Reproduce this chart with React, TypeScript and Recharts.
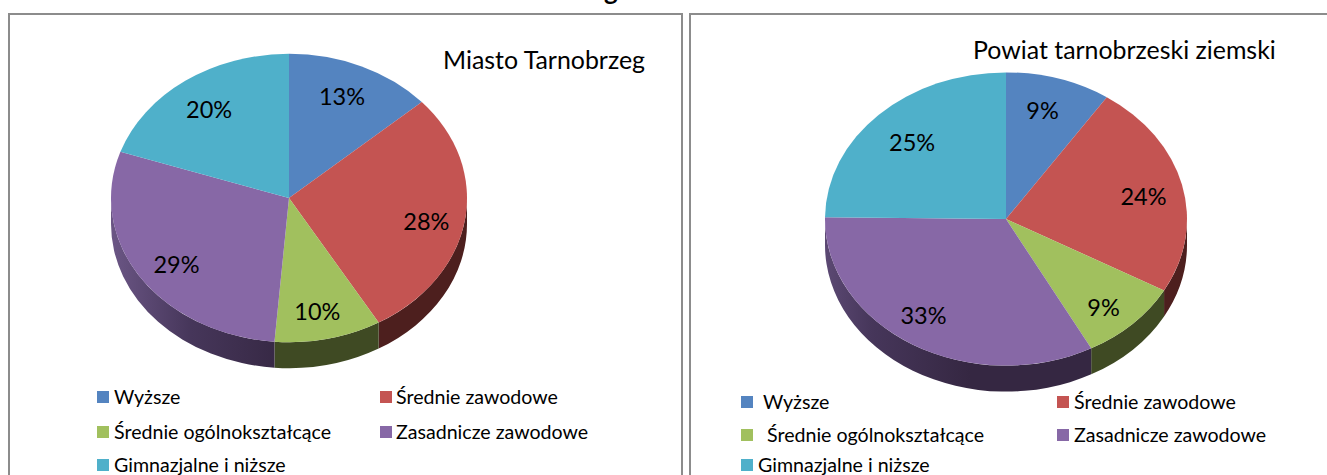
import React from 'react';
import { PieChart, Pie, Cell, Legend } from 'recharts';

const categories = ['Wyższe', 'Średnie zawodowe', 'Średnie ogólnokształcące', 'Zasadnicze zawodowe', 'Gimnazjalne i niższe'];
// the labels show these rounded
const miastoValues = [13.4, 28.2, 9.7, 28.9, 19.8];
const powiatValues = [9.4, 23.7, 9.1, 33, 24.8];
const topColors = ['#5484c0', '#c45452', '#a1c05e', '#8768a6', '#4fb0ca'];
const wallColors = ['#2c4a6e', '#4d1f1e', '#3f4a23', 'url(#wallPurple)', '#235a68'];

const toRows = (values: number[]) => categories.map((name, i) => ({ name, value: values[i] }));

const LABEL_FONT = 'Lato, "Open Sans", sans-serif';
const SQUASH = 0.81;
const DEPTH = 26;

// elliptical pie: recharts gives the angles, we flatten them and add the side wall
function TiltedSlice(props: any) {
  const { cx, cy, outerRadius, startAngle, endAngle, fill, index } = props;
  const rx = outerRadius;
  const ry = outerRadius * SQUASH;
  const pt = (deg: number, dy = 0) => {
    const a = (deg * Math.PI) / 180;
    return [cx + rx * Math.cos(a), cy - ry * Math.sin(a) + dy];
  };
  const [x1, y1] = pt(startAngle);
  const [x2, y2] = pt(endAngle);
  const large = Math.abs(startAngle - endAngle) > 180 ? 1 : 0;
  const sweep = startAngle > endAngle ? 1 : 0;
  const top = `M${cx},${cy} L${x1},${y1} A${rx},${ry} 0 ${large} ${sweep} ${x2},${y2} Z`;

  // wall only shows on the front half, which is -180..0 in recharts degrees
  const from = Math.min(startAngle, 0);
  const to = Math.max(endAngle, -180);
  let wall = null;
  if (from > to) {
    const [a1, b1] = pt(from);
    const [a2, b2] = pt(to);
    const [c2, d2] = pt(to, DEPTH);
    const [c1, d1] = pt(from, DEPTH);
    wall = (
      <path
        d={`M${a1},${b1} A${rx},${ry} 0 0 1 ${a2},${b2} L${c2},${d2} A${rx},${ry} 0 0 0 ${c1},${d1} Z`}
        fill={wallColors[index]}
      />
    );
  }
  return (
    <g>
      {wall}
      <path d={top} fill={fill} />
    </g>
  );
}

// labels were dragged by hand in the original, so each one gets a small nudge
const makeLabel = (nudges: number[][]) => (props: any) => {
  const { cx, cy, outerRadius, midAngle, value, index } = props;
  const a = (midAngle * Math.PI) / 180;
  const x = cx + outerRadius * 0.77 * Math.cos(a) + nudges[index][0];
  const y = cy - outerRadius * SQUASH * 0.77 * Math.sin(a) + 3 + nudges[index][1];
  return (
    <text x={x} y={y} textAnchor="middle" dominantBaseline="central" fontFamily={LABEL_FONT} fontSize={23.5} fill="#000">
      {Math.round(value)}%
    </text>
  );
};

function LegendBox({ payload, places }: any) {
  return (
    <div style={{ position: 'relative', width: '100%', height: '100%' }}>
      {(payload || []).map((entry: any, i: number) => (
        <div key={entry.value}>
          <div style={{ position: 'absolute', left: places[i][0], top: places[i][2] - 6, width: 12, height: 12, background: entry.color }} />
          <div
            style={{
              position: 'absolute',
              left: places[i][1],
              top: places[i][2] - 12,
              fontFamily: LABEL_FONT,
              fontSize: 19.6,
              lineHeight: '24px',
              whiteSpace: 'nowrap',
              color: '#000',
            }}
          >
            {entry.value}
          </div>
        </div>
      ))}
    </div>
  );
}

function Panel({ left, width, values, title, titleX, titleY, cx, cy, radius, places, nudges }: any) {
  return (
    <div style={{ position: 'absolute', left, top: 13, width, height: 475, boxSizing: 'border-box', border: '2px solid #8c8c8c' }}>
      <div
        style={{
          position: 'absolute',
          left: titleX - left - 2,
          top: titleY - 15 - 15,
          fontFamily: LABEL_FONT,
          fontSize: 24.9,
          lineHeight: '30px',
          whiteSpace: 'nowrap',
          color: '#000',
        }}
      >
        {title}
      </div>
      <div style={{ position: 'absolute', left: -2, top: -15 }}>
        <PieChart width={width} height={475} margin={{ top: 0, right: 0, bottom: 0, left: 0 }}>
          <defs>
            <linearGradient id="wallPurple" gradientUnits="userSpaceOnUse" x1={cx - left - radius} x2={cx - left} y1="0" y2="0">
              <stop offset="0" stopColor="#6b5685" />
              <stop offset="0.45" stopColor="#46365a" />
              <stop offset="1" stopColor="#352742" />
            </linearGradient>
          </defs>
          <Pie
            data={toRows(values)}
            dataKey="value"
            nameKey="name"
            cx={cx - left}
            cy={cy}
            outerRadius={radius}
            startAngle={90}
            endAngle={-270}
            stroke="none"
            shape={TiltedSlice}
            label={makeLabel(nudges)}
            labelLine={false}
            isAnimationActive={false}
          >
            {values.map((_: number, i: number) => (
              <Cell key={categories[i]} fill={topColors[i]} />
            ))}
          </Pie>
          <Legend
            itemSorter={null}
            content={(p: any) => <LegendBox payload={p.payload} places={places} />}
            wrapperStyle={{ position: 'absolute', left: 0, top: 0, width, height: 475, bottom: 'auto' }}
          />
        </PieChart>
      </div>
    </div>
  );
}

// swatch x, text x, row centre y, relative to each panel
const miastoLegend = [
  [89, 106, 397],
  [372, 388, 397],
  [89, 106, 432],
  [372, 388, 432],
  [89, 106, 465],
];
const powiatLegend = [
  [52, 74, 402],
  [368, 385, 402],
  [52, 78, 435],
  [368, 385, 435],
  [52, 69, 465],
];
const miastoNudges = [[-3, -4], [2, 3], [-2, 2], [2, 2], [0, -2]];
const powiatNudges = [[-4, -4], [2, 0], [0, 4], [-10, -3], [4, 0]];

export default function App() {
  return (
    <div style={{ position: 'fixed', left: 0, top: 0, width: 1327, height: 475, overflow: 'hidden', background: '#fff' }}>
      <div style={{ position: 'absolute', left: 604, top: -25, fontFamily: LABEL_FONT, fontWeight: 700, fontSize: 26, lineHeight: '30px', color: '#000' }}>
        g
      </div>
      <Panel left={8} width={675} values={miastoValues} title="Miasto Tarnobrzeg" titleX={443} titleY={59} cx={289} cy={198} radius={178} places={miastoLegend} nudges={miastoNudges} />
      <Panel left={689} width={645} values={powiatValues} title="Powiat tarnobrzeski ziemski" titleX={973} titleY={49} cx={1006} cy={219} radius={181} places={powiatLegend} nudges={powiatNudges} />
    </div>
  );
}
